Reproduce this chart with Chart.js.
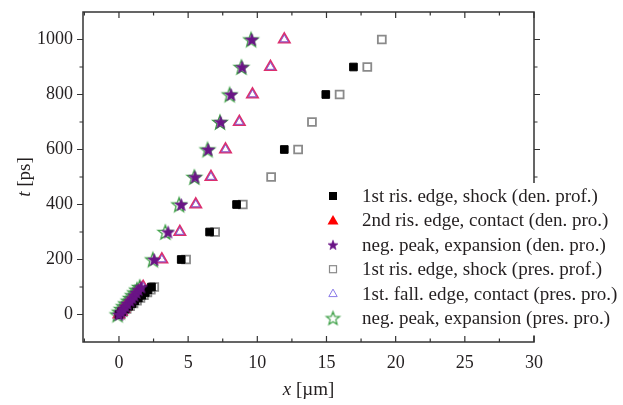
<!DOCTYPE html>
<html>
<head>
<meta charset="utf-8">
<script src="https://cdn.jsdelivr.net/npm/chart.js@4.4.1/dist/chart.umd.min.js"></script>
<style>
  html, body { margin: 0; padding: 0; background: #fff; }
  canvas { display: block; }
</style>
</head>
<body>
<canvas id="chart" width="623" height="405"></canvas>
<script>
// values
const tEarly = [0, 10, 20, 30, 40, 50, 60, 70, 80, 90, 100]
const tLate = [200, 300, 400, 500, 600, 700, 800, 900, 1000]
const tShockDenLate = [200, 300, 400, 600, 800, 900]

const shockDenX = [0, 0.2, 0.45, 0.7, 0.95, 1.15, 1.4, 1.65, 1.9, 2.1, 2.35, 4.5, 6.55, 8.5, 11.95, 14.95, 16.95]
const contactDenX = [0, 0.18, 0.35, 0.52, 0.7, 0.88, 1.05, 1.22, 1.4, 1.58, 1.75, 3.1, 4.4, 5.55, 6.65, 7.7, 8.7, 9.65, 10.95, 11.95]
const expansionDenX = [0, 0.15, 0.3, 0.45, 0.6, 0.8, 0.95, 1.1, 1.25, 1.4, 1.6, 2.55, 3.55, 4.5, 5.5, 6.45, 7.35, 8.1, 8.9, 9.6]
const shockPresX = [0.05, 0.3, 0.55, 0.8, 1.05, 1.3, 1.55, 1.8, 2.05, 2.3, 2.55, 4.85, 6.95, 8.95, 11, 12.95, 13.95, 15.95, 17.95, 19]
const contactPresX = [0, 0.18, 0.35, 0.52, 0.7, 0.88, 1.05, 1.22, 1.4, 1.58, 1.75, 3.1, 4.4, 5.55, 6.65, 7.7, 8.7, 9.65, 10.95, 11.95]
const expansionPresX = [-0.1, 0.05, 0.2, 0.35, 0.5, 0.7, 0.85, 1.0, 1.15, 1.3, 1.5, 2.45, 3.35, 4.35, 5.45, 6.4, 7.3, 8.0, 8.85, 9.55]

const seriesLabels = [
  '1st ris. edge, shock (den. prof.)',
  '2nd ris. edge, contact (den. pro.)',
  'neg. peak, expansion (den. pro.)',
  '1st ris. edge, shock (pres. prof.)',
  '1st. fall. edge, contact (pres. pro.)',
  'neg. peak, expansion (pres. pro.)'
]

const xTicks = [0, 5, 10, 15, 20, 25, 30]
const xMinorTicks = [-2.5, 2.5, 7.5, 12.5, 17.5, 22.5, 27.5]
const yTicks = [0, 200, 400, 600, 800, 1000]
const yMinorTicks = [-100, 100, 300, 500, 700, 900, 1100]

const SERIF = '"Liberation Serif", "DejaVu Serif", serif'
const INK = '#231f20'

function pairs(xs, ts) {
  return xs.map((x, i) => ({ x: x, y: ts[i] }))
}

// five point star as a small canvas, used as point style
function makeStar(r, fill, stroke, lw) {
  const size = Math.ceil(2 * r + 2 * lw + 2)
  const c = document.createElement('canvas')
  c.width = size
  c.height = size
  const ctx = c.getContext('2d')
  ctx.translate(size / 2, size / 2 + r * 0.1)
  ctx.beginPath()
  for (let i = 0; i < 10; i++) {
    const a = -Math.PI / 2 + i * Math.PI / 5
    const rr = i % 2 ? r * 0.42 : r
    ctx.lineTo(Math.cos(a) * rr, Math.sin(a) * rr)
  }
  ctx.closePath()
  if (fill) { ctx.fillStyle = fill; ctx.fill() }
  if (stroke) { ctx.strokeStyle = stroke; ctx.lineWidth = lw; ctx.stroke() }
  return c
}

const purpleStar = makeStar(6.5, '#6a1486', '#6a1486', 0.8)
const greenStar = makeStar(7.6, null, '#3c9f45', 1.3)
const purpleStarSmall = makeStar(5.2, '#6a1486', '#6a1486', 0.6)
const greenStarLegend = makeStar(7, null, '#3c9f45', 1.2)

const datasets = [
  {
    label: seriesLabels[0],
    data: pairs(shockDenX, [...tEarly, ...tShockDenLate]),
    pointStyle: 'rect', pointRadius: 5.4,
    backgroundColor: '#000', borderColor: '#000', borderWidth: 1,
    order: 2
  },
  {
    label: seriesLabels[1],
    data: pairs(contactDenX, [...tEarly, ...tLate]),
    pointStyle: 'triangle', pointRadius: 6.2,
    backgroundColor: '#fff', borderColor: '#dc2f6e', borderWidth: 2,
    order: 4
  },
  {
    label: seriesLabels[2],
    data: pairs(expansionDenX, [...tEarly, ...tLate]),
    pointStyle: purpleStar,
    backgroundColor: '#6a1486', borderColor: '#6a1486',
    order: 1
  },
  {
    label: seriesLabels[3],
    data: pairs(shockPresX, [...tEarly, ...tLate]),
    pointStyle: 'rect', pointRadius: 5.6,
    backgroundColor: '#fff', borderColor: '#8a8a8a', borderWidth: 1.8,
    order: 5
  },
  {
    label: seriesLabels[4],
    data: pairs(contactPresX, [...tEarly, ...tLate]),
    pointStyle: 'triangle', pointRadius: 4.6,
    backgroundColor: 'rgba(0,0,0,0)', borderColor: '#8a6ad8', borderWidth: 1,
    order: 3
  },
  {
    label: seriesLabels[5],
    data: pairs(expansionPresX, [...tEarly, ...tLate]),
    pointStyle: greenStar,
    backgroundColor: 'rgba(0,0,0,0)', borderColor: '#3c9f45',
    order: 6
  }
]

// draw a label whose first part is italic
function mixedText(ctx, italicPart, rest, cx, cy, size) {
  ctx.font = 'italic ' + size + 'px ' + SERIF
  const w1 = ctx.measureText(italicPart).width
  ctx.font = size + 'px ' + SERIF
  const w2 = ctx.measureText(rest).width
  const sx = cx - (w1 + w2) / 2
  ctx.textAlign = 'left'
  ctx.textBaseline = 'middle'
  ctx.font = 'italic ' + size + 'px ' + SERIF
  ctx.fillText(italicPart, sx, cy)
  ctx.font = size + 'px ' + SERIF
  ctx.fillText(rest, sx + w1, cy)
}

// box with inward ticks on bottom/top, outward on the left
const framePlugin = {
  id: 'frame',
  afterDraw(chart) {
    const ctx = chart.ctx
    const a = chart.chartArea
    const xs = chart.scales.x
    const ys = chart.scales.y
    ctx.save()
    ctx.strokeStyle = '#333'
    ctx.lineWidth = 1.5
    ctx.strokeRect(a.left, a.top, a.right - a.left, a.bottom - a.top)
    ctx.lineWidth = 1.2
    ctx.beginPath()
    xTicks.forEach(v => {
      const px = xs.getPixelForValue(v)
      ctx.moveTo(px, a.bottom); ctx.lineTo(px, a.bottom - 6)
      ctx.moveTo(px, a.top); ctx.lineTo(px, a.top + 6)
    })
    xMinorTicks.forEach(v => {
      const px = xs.getPixelForValue(v)
      if (px < a.left + 1) return
      ctx.moveTo(px, a.bottom); ctx.lineTo(px, a.bottom - 3.5)
      ctx.moveTo(px, a.top); ctx.lineTo(px, a.top + 3.5)
    })
    yTicks.forEach(v => {
      const py = ys.getPixelForValue(v)
      ctx.moveTo(a.left, py); ctx.lineTo(a.left - 6, py)
      ctx.moveTo(a.right, py); ctx.lineTo(a.right + 6, py)
    })
    yMinorTicks.forEach(v => {
      const py = ys.getPixelForValue(v)
      if (py < a.top + 1 || py > a.bottom - 1) return
      ctx.moveTo(a.left, py); ctx.lineTo(a.left - 3.5, py)
      ctx.moveTo(a.right, py); ctx.lineTo(a.right + 3.5, py)
    })
    ctx.stroke()

    // axis titles
    ctx.fillStyle = INK
    mixedText(ctx, 'x', ' [\u00b5m]', (a.left + a.right) / 2, 390, 19)
    ctx.save()
    ctx.translate(25, (a.top + a.bottom) / 2)
    ctx.rotate(-Math.PI / 2)
    mixedText(ctx, 't', ' [ps]', 0, 0, 19)
    ctx.restore()

    ctx.restore()
  }
}

// legend inside the plot, lower right, on a white box that hides the frame
const legendPlugin = {
  id: 'insideLegend',
  afterDraw(chart) {
    const ctx = chart.ctx
    const symX = 333
    const textX = 362
    const top = 196
    const step = 24.4
    ctx.save()
    ctx.fillStyle = '#fff'
    ctx.fillRect(322, top - 13, 623 - 322, step * 6 + 6)
    ctx.font = '19px ' + SERIF
    ctx.fillStyle = INK
    ctx.textBaseline = 'middle'
    ctx.textAlign = 'left'
    seriesLabels.forEach((label, i) => {
      const y = top + i * step
      ctx.save()
      if (i === 0) {
        ctx.fillStyle = '#000'
        ctx.fillRect(symX - 4, y - 4, 8, 8)
      } else if (i === 1) {
        ctx.fillStyle = '#f00'
        ctx.beginPath()
        ctx.moveTo(symX, y - 5.5); ctx.lineTo(symX + 5.5, y + 4); ctx.lineTo(symX - 5.5, y + 4)
        ctx.closePath(); ctx.fill()
      } else if (i === 2) {
        ctx.drawImage(purpleStarSmall, symX - purpleStarSmall.width / 2, y - purpleStarSmall.height / 2)
      } else if (i === 3) {
        ctx.strokeStyle = '#8a8a8a'; ctx.lineWidth = 1.2
        ctx.strokeRect(symX - 3.5, y - 3.5, 7, 7)
      } else if (i === 4) {
        ctx.strokeStyle = '#8a7ae8'; ctx.lineWidth = 1
        ctx.beginPath()
        ctx.moveTo(symX, y - 4.5); ctx.lineTo(symX + 4.2, y + 3); ctx.lineTo(symX - 4.2, y + 3)
        ctx.closePath(); ctx.stroke()
      } else {
        ctx.drawImage(greenStarLegend, symX - greenStarLegend.width / 2, y - greenStarLegend.height / 2)
      }
      ctx.restore()
      ctx.fillText(label, textX, y + 1)
    })
    ctx.restore()
  }
}

new Chart(document.getElementById('chart'), {
  type: 'scatter',
  data: { datasets: datasets },
  options: {
    responsive: false,
    animation: false,
    devicePixelRatio: 1,
    layout: { padding: { left: 0, top: 12, right: 89, bottom: 0 } },
    plugins: {
      legend: { display: false },
      tooltip: { enabled: false }
    },
    scales: {
      x: {
        type: 'linear',
        min: -2.6,
        max: 30,
        grid: { display: false, drawTicks: false },
        border: { display: false },
        afterBuildTicks: scale => { scale.ticks = xTicks.map(v => ({ value: v })) },
        afterFit: scale => {
          scale.height = 63
          scale.paddingLeft = 0
          scale.paddingRight = 0
        },
        ticks: {
          padding: 10,
          color: INK,
          font: { family: SERIF, size: 18 },
          maxRotation: 0,
          callback: v => String(v)
        }
      },
      y: {
        type: 'linear',
        min: -100,
        max: 1100,
        grid: { display: false, drawTicks: false },
        border: { display: false },
        afterBuildTicks: scale => { scale.ticks = yTicks.map(v => ({ value: v })) },
        afterFit: scale => {
          scale.width = 83
          scale.paddingTop = 0
          scale.paddingBottom = 0
        },
        ticks: {
          padding: 10,
          color: INK,
          font: { family: SERIF, size: 18 },
          callback: v => String(v)
        }
      }
    }
  },
  plugins: [framePlugin, legendPlugin]
})
</script>
</body>
</html>
